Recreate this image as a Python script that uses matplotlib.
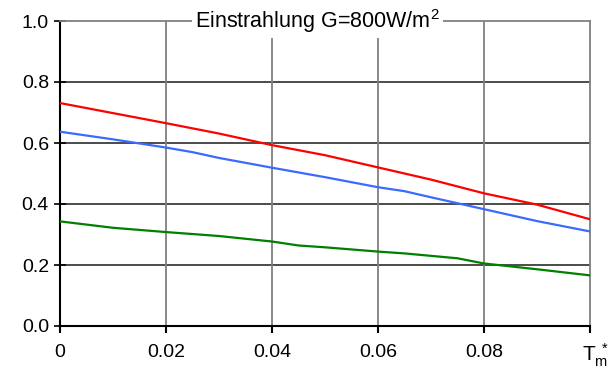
import numpy as np
import matplotlib
matplotlib.use("Agg")
import matplotlib.pyplot as plt

plt.rcParams['font.family'] = ['Liberation Sans', 'DejaVu Sans']
plt.rcParams['mathtext.fontset'] = 'custom'
plt.rcParams['mathtext.rm'] = 'Liberation Sans'
plt.rcParams['mathtext.it'] = 'Liberation Sans'

# Werte
x_red = [0.0, 0.01, 0.02, 0.03, 0.04, 0.05, 0.06, 0.07, 0.08, 0.09, 0.1]
y_red = [0.731, 0.698, 0.665, 0.631, 0.593, 0.560, 0.520, 0.480, 0.435, 0.398, 0.350]

x_blue = [0.0, 0.01, 0.02, 0.025, 0.03, 0.04, 0.05, 0.06, 0.065, 0.07, 0.08, 0.09, 0.1]
y_blue = [0.637, 0.612, 0.585, 0.570, 0.551, 0.519, 0.488, 0.455, 0.442, 0.422, 0.383, 0.344, 0.310]

x_green = [0.0, 0.01, 0.02, 0.03, 0.04, 0.045, 0.05, 0.06, 0.065, 0.07, 0.075, 0.08, 0.09, 0.1]
y_green = [0.343, 0.322, 0.308, 0.295, 0.277, 0.264, 0.258, 0.244, 0.238, 0.230, 0.222, 0.205, 0.186, 0.166]

x_ticks = [0, 0.02, 0.04, 0.06, 0.08, 0.1]
x_labels = ['0', '0.02', '0.04', '0.06', '0.08', '']
y_ticks = [0.0, 0.2, 0.4, 0.6, 0.8, 1.0]

fig = plt.figure(figsize=(6.11, 3.72), dpi=100)
ax = fig.add_axes([60/611, 46/372, 530/611, 305/372])

# Gitter
for yv in y_ticks[1:-1]:
    ax.axhline(yv, color='#1a1a1a', linewidth=1.1, zorder=1)
for xv in x_ticks[1:-1]:
    ax.axvline(xv, color='#808080', linewidth=1.3, zorder=1)

ax.plot(x_red, y_red, color='#ff0000', linewidth=1.6, zorder=3)
ax.plot(x_blue, y_blue, color='#3a6bff', linewidth=1.6, zorder=3)
ax.plot(x_green, y_green, color='#008000', linewidth=1.6, zorder=3)

ax.set_xlim(0, 0.1)
ax.set_ylim(0, 1.0)
ax.set_xticks(x_ticks)
ax.set_xticklabels(x_labels)
ax.set_yticks(y_ticks)
ax.set_yticklabels(['%.1f' % v for v in y_ticks])

ax.spines['left'].set_color('black')
ax.spines['left'].set_linewidth(1.5)
ax.spines['bottom'].set_color('black')
ax.spines['bottom'].set_linewidth(1.5)
ax.spines['top'].set_color('#808080')
ax.spines['top'].set_linewidth(1.3)
ax.spines['right'].set_color('#808080')
ax.spines['right'].set_linewidth(1.3)

ax.tick_params(axis='y', direction='inout', length=8, width=1.2, labelsize=14, pad=4)
ax.tick_params(axis='x', direction='out', length=5, width=1.5, labelsize=14, pad=8)

# Achsenbeschriftung rechts unten
ax.text(0.0985, -0.097, r'$\mathrm{T_m^{\ *}}$', fontsize=15, ha='left', va='center',
        transform=ax.transData)

ax.text(0.486, 1.0, 'Einstrahlung G=800W/m$^2$', transform=ax.transAxes,
        ha='center', va='center', fontsize=15.5, zorder=5,
        bbox=dict(facecolor='white', edgecolor='none', pad=2))

fig.savefig('out.png', dpi=100)
